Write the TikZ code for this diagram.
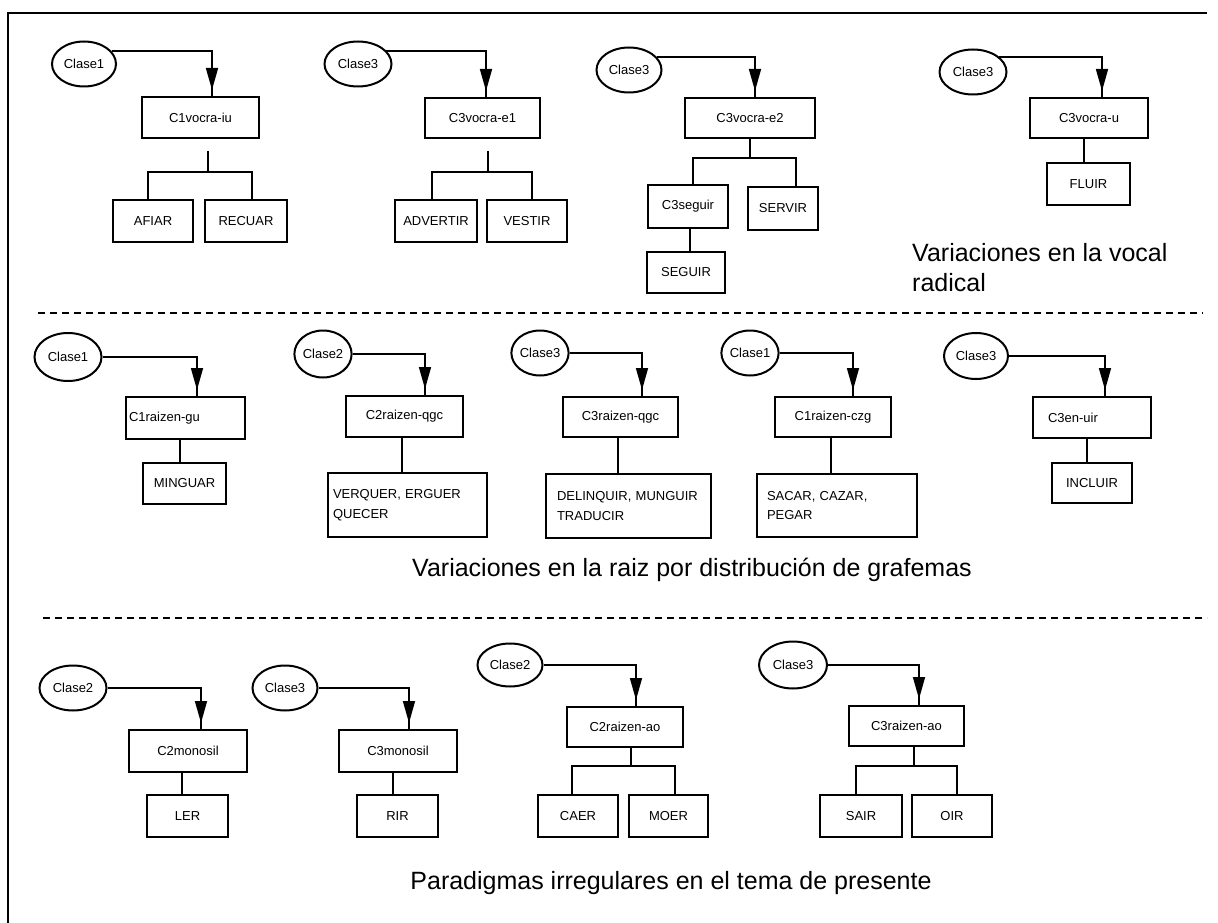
\documentclass[tikz,border=0pt]{standalone}
\usepackage{fontspec}
\setmainfont{Liberation Sans}
\usetikzlibrary{arrows.meta,decorations.markings,shapes.geometric}
\begin{document}
\begin{tikzpicture}[x=1pt,y=-1pt,
  small/.style={font=\fontsize{13}{19.5}\selectfont},
  box/.style={draw, line width=2pt, rectangle, inner sep=0pt, small},
  oval/.style={draw, line width=2pt, ellipse, inner sep=0pt, small},
  conn/.style={line width=1.6pt},
  arr/.style={conn, postaction={decorate}, decoration={markings, mark=at position -6pt with {\arrow{Triangle[width=12pt,length=22pt]}}}},
  sep/.style={line width=1.5pt, dash pattern=on 7pt off 5pt},
  caption/.style={font=\fontsize{25}{30}\selectfont, inner sep=0pt},
]
\useasboundingbox (0,0) rectangle (1218,923);
% frame
\draw[line width=2.2pt] (1207,13) -- (8,13) -- (8,923);

% ===== Row 1 =====
\node[oval, minimum width=64pt, minimum height=45pt] (o11) at (84,64) {Clase1};
\node[box, minimum width=117pt, minimum height=41pt] (b11) at (200.5,117.5) {C1vocra-iu};
\node[box, minimum width=80pt, minimum height=42pt] (l11) at (153,221) {AFIAR};
\node[box, minimum width=82pt, minimum height=42pt] (l12) at (246,221) {RECUAR};
\coordinate (j11) at (208,172);
\draw[arr] (o11.25) -| ([xshift=11.5pt]b11.north);
\draw[conn, shorten <=12pt] (b11.south -| j11) -- (j11);
\draw[conn] ([xshift=-5pt]l11.north) |- (j11) -| ([xshift=6pt]l12.north);

\node[oval, minimum width=67pt, minimum height=45pt] (o12) at (358,64) {Clase3};
\node[box, minimum width=115pt, minimum height=40pt] (b12) at (482.5,118) {C3vocra-e1};
\node[box, minimum width=82pt, minimum height=42pt] (l21) at (436,221) {ADVERTIR};
\node[box, minimum width=80pt, minimum height=42pt] (l22) at (527,221) {VESTIR};
\coordinate (j12) at (488,172);
\draw[arr] (o12.25) -| ([xshift=3.5pt]b12.north);
\draw[conn, shorten <=12pt] (b12.south -| j12) -- (j12);
\draw[conn] ([xshift=-4pt]l21.north) |- (j12) -| ([xshift=5pt]l22.north);

\node[oval, minimum width=65pt, minimum height=45pt] (o13) at (629,70) {Clase3};
\node[box, minimum width=130pt, minimum height=40pt] (b13) at (750,118) {C3vocra-e2};
\node[box, minimum width=80pt, minimum height=43pt] (l31) at (688,206.5) {C3seguir};
\node[box, minimum width=70pt, minimum height=43pt] (l32) at (783,208.5) {SERVIR};
\node[box, minimum width=78pt, minimum height=41pt] (l33) at (686,272.5) {SEGUIR};
\coordinate (j13) at (750,158);
\draw[arr] (o13.25) -| ([xshift=5pt]b13.north);
\draw[conn] (b13.south -| j13) -- (j13);
\draw[conn] ([xshift=5pt]l31.north) |- (j13) -| ([xshift=13pt]l32.north);
\draw[conn] ([xshift=2pt]l31.south) -- ([xshift=4pt]l33.north);

\node[oval, minimum width=67pt, minimum height=45pt] (o14) at (973,72) {Clase3};
\node[box, minimum width=118pt, minimum height=40pt] (b14) at (1089,118) {C3vocra-u};
\node[box, minimum width=83pt, minimum height=42pt] (l41) at (1088.5,184) {FLUIR};
\draw[arr] (o14.30) -| ([xshift=13pt]b14.north);
\draw[conn] ([xshift=-5pt]b14.south) -- ([xshift=-4.5pt]l41.north);

\node[caption, anchor=north west, align=left] (cap1) at (912,243) {Variaciones en la vocal\\radical};

\draw[sep] (38,313) -- (1203,313);

% ===== Row 2 =====
\node[oval, minimum width=67pt, minimum height=48pt] (oA) at (68,357) {Clase1};
\node[box, minimum width=119pt, minimum height=42pt, inner xsep=3pt, text width=113pt, align=left] (bA) at (185.5,418) {C1raizen-gu};
\node[box, minimum width=83pt, minimum height=41pt] (lA) at (184.5,483.5) {MINGUAR};
\draw[arr] (oA.east) -| ([xshift=11.5pt]bA.north);
\draw[conn] ([xshift=-5.5pt]bA.south) -- ([xshift=-4.5pt]lA.north);

\node[oval, minimum width=50pt, minimum height=47pt] (oB) at (323,354) {Clase2};
\node[box, minimum width=117pt, minimum height=41pt] (bB) at (404.5,416.5) {C2raizen-qgc};
\node[box, minimum width=159pt, minimum height=64pt, inner xsep=5pt, text width=149pt, align=left] (lB) at (407.5,505) {VERQUER,~ERGUER\\QUECER};
\draw[arr] (oB.east) -| ([xshift=20.5pt]bB.north);
\draw[conn] ([xshift=-2.5pt]bB.south) -- ([xshift=-5.5pt]lB.north);

\node[oval, minimum width=54pt, minimum height=45pt] (oC) at (540,353) {Clase3};
\node[box, minimum width=115pt, minimum height=40pt] (bC) at (620.5,417) {C3raizen-qgc};
\node[box, minimum width=165pt, minimum height=64pt, inner xsep=11pt, text width=143pt, align=left] (lC) at (628.5,506) {DELINQUIR,~MUNGUIR\\TRADUCIR};
\draw[arr] (oC.east) -| ([xshift=21.5pt]bC.north);
\draw[conn] ([xshift=-2.5pt]bC.south) -- ([xshift=-10.5pt]lC.north);

\node[oval, minimum width=55pt, minimum height=45pt] (oD) at (750,353) {Clase1};
\node[box, minimum width=116pt, minimum height=40pt] (bD) at (833,417) {C1raizen-czg};
\node[box, minimum width=160pt, minimum height=63pt, inner xsep=10pt, text width=140pt, align=left] (lD) at (837,505.5) {SACAR, CAZAR,\\PEGAR};
\draw[arr] (oD.east) -| ([xshift=20pt]bD.north);
\draw[conn] ([xshift=-2pt]bD.south) -- ([xshift=-6pt]lD.north);

\node[oval, minimum width=64pt, minimum height=46pt] (oE) at (976,356) {Clase3};
\node[box, minimum width=118pt, minimum height=41pt, inner xsep=15pt, text width=88pt, align=left] (bE) at (1092,417.5) {C3en-uir};
\node[box, minimum width=80pt, minimum height=40pt] (lE) at (1092,483) {INCLUIR};
\draw[arr] (oE.east) -| ([xshift=13pt]bE.north);
\draw[conn] ([xshift=-5pt]bE.south) -- ([xshift=-5pt]lE.north);

\node[caption, anchor=base] (cap2) at (692,576) {Variaciones en la raiz por distribución de grafemas};

\draw[sep] (43,618) -- (1207,618);

% ===== Row 3 =====
\node[oval, minimum width=67pt, minimum height=45pt] (oF) at (73,688) {Clase2};
\node[box, minimum width=118pt, minimum height=42pt] (bF) at (188,751) {C2monosil};
\node[box, minimum width=81pt, minimum height=42pt] (lF) at (187.5,816) {LER};
\draw[arr] (oF.east) -| ([xshift=13pt]bF.north);
\draw[conn] ([xshift=-6pt]bF.south) -- ([xshift=-5.5pt]lF.north);

\node[oval, minimum width=65pt, minimum height=45pt] (oG) at (285,688) {Clase3};
\node[box, minimum width=118pt, minimum height=42pt] (bG) at (398,751) {C3monosil};
\node[box, minimum width=81pt, minimum height=42pt] (lG) at (397.5,816) {RIR};
\draw[arr] (oG.east) -| ([xshift=11pt]bG.north);
\draw[conn] ([xshift=-5pt]bG.south) -- ([xshift=-4.5pt]lG.north);

\node[oval, minimum width=65pt, minimum height=43pt] (oH) at (510,665) {Clase2};
\node[box, minimum width=116pt, minimum height=40pt] (bH) at (625,727) {C2raizen-ao};
\node[box, minimum width=80pt, minimum height=42pt] (lH1) at (578,816) {CAER};
\node[box, minimum width=79pt, minimum height=42pt] (lH2) at (668.5,816) {MOER};
\coordinate (jH) at (631,766);
\draw[arr] (oH.east) -| ([xshift=11pt]bH.north);
\draw[conn] (bH.south -| jH) -- (jH);
\draw[conn] ([xshift=-6pt]lH1.north) |- (jH) -| ([xshift=6.5pt]lH2.north);

\node[oval, minimum width=68pt, minimum height=47pt] (oI) at (793,665) {Clase3};
\node[box, minimum width=115pt, minimum height=40pt] (bI) at (906.5,726) {C3raizen-ao};
\node[box, minimum width=82pt, minimum height=42pt] (lI1) at (861,816) {SAIR};
\node[box, minimum width=80pt, minimum height=42pt] (lI2) at (952,816) {OIR};
\coordinate (jI) at (914,766);
\draw[arr] (oI.east) -| ([xshift=12.5pt]bI.north);
\draw[conn] (bI.south -| jI) -- (jI);
\draw[conn] ([xshift=-5pt]lI1.north) |- (jI) -| ([xshift=5pt]lI2.north);

\node[caption, anchor=base] (cap3) at (671,889) {Paradigmas irregulares en el tema de presente};
\end{tikzpicture}
\end{document}
